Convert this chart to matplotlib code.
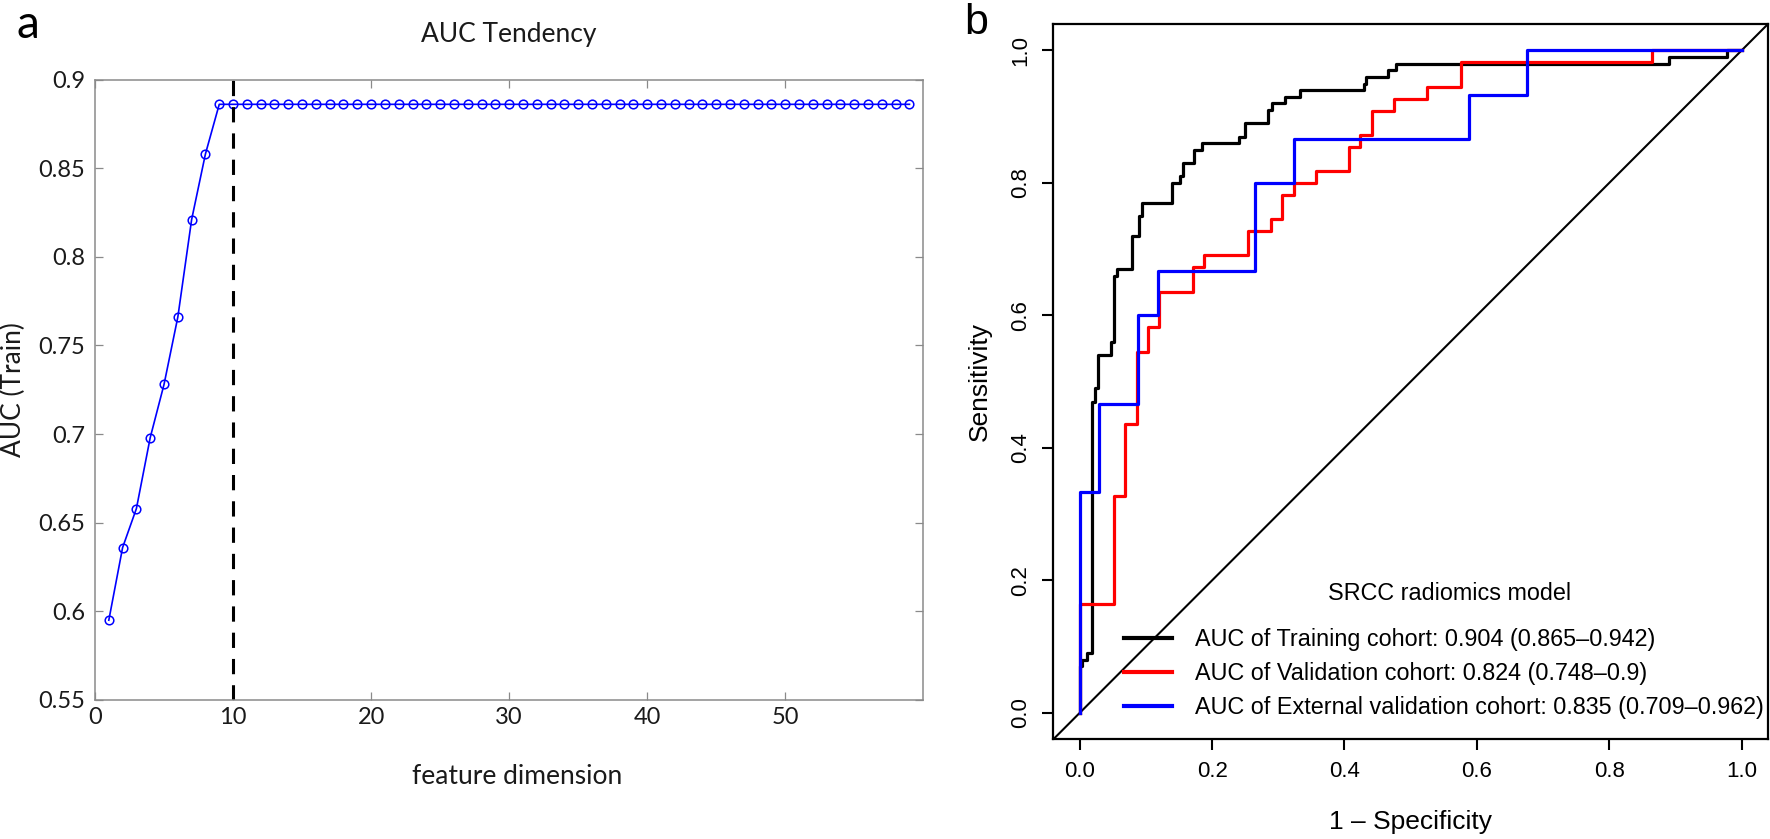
import matplotlib.pyplot as plt

# ---- panel a: AUC tendency ----
feat_dim = list(range(1, 60))
auc_train = [
    0.595, 0.636, 0.658, 0.698, 0.728, 0.766, 0.821, 0.858, 0.886, 0.886,
    0.886, 0.886, 0.886, 0.886, 0.886, 0.886, 0.886, 0.886, 0.886, 0.886,
    0.886, 0.886, 0.886, 0.886, 0.886, 0.886, 0.886, 0.886, 0.886, 0.886,
    0.886, 0.886, 0.886, 0.886, 0.886, 0.886, 0.886, 0.886, 0.886, 0.886,
    0.886, 0.886, 0.886, 0.886, 0.886, 0.886, 0.886, 0.886, 0.886, 0.886,
    0.886, 0.886, 0.886, 0.886, 0.886, 0.886, 0.886, 0.886, 0.886,
]
best_dim = 10
a_xticks = [0, 10, 20, 30, 40, 50]
a_yticks = [0.55, 0.6, 0.65, 0.7, 0.75, 0.8, 0.85, 0.9]
a_yticklabels = ['0.55', '0.6', '0.65', '0.7', '0.75', '0.8', '0.85', '0.9']

# ---- panel b: ROC curves (corner points, 1 - specificity / sensitivity) ----
train_fpr = [0, 0, 0.004, 0.011, 0.019, 0.023, 0.028, 0.047, 0.051, 0.057,
             0.079, 0.090, 0.094, 0.139, 0.151, 0.156, 0.173, 0.184, 0.240,
             0.250, 0.285, 0.290, 0.310, 0.333, 0.429, 0.433, 0.466, 0.478,
             0.890, 0.978, 1.0]
train_tpr = [0, 0.07, 0.08, 0.09, 0.47, 0.49, 0.54, 0.56, 0.66, 0.67,
             0.72, 0.75, 0.77, 0.80, 0.81, 0.83, 0.85, 0.86, 0.87,
             0.89, 0.91, 0.92, 0.93, 0.94, 0.95, 0.96, 0.97, 0.98,
             0.99, 1.0, 1.0]
valid_fpr = [0, 0, 0.051, 0.068, 0.086, 0.103, 0.120, 0.171, 0.187, 0.254,
             0.289, 0.306, 0.323, 0.357, 0.407, 0.424, 0.441, 0.475, 0.525,
             0.576, 0.865, 1.0]
valid_tpr = [0, 0.164, 0.327, 0.436, 0.545, 0.582, 0.636, 0.673, 0.691, 0.727,
             0.745, 0.782, 0.800, 0.818, 0.855, 0.873, 0.909, 0.927, 0.945,
             0.982, 1.0, 1.0]
ext_fpr = [0, 0, 0.029, 0.088, 0.118, 0.265, 0.324, 0.588, 0.676, 1.0]
ext_tpr = [0, 0.333, 0.467, 0.600, 0.667, 0.800, 0.867, 0.933, 1.0, 1.0]

legend_title = 'SRCC radiomics model'
roc_labels = [
    'AUC of Training cohort: 0.904 (0.865\u20130.942)',
    'AUC of Validation cohort: 0.824 (0.748\u20130.9)',
    'AUC of External validation cohort: 0.835 (0.709\u20130.962)',
]
roc_colors = ['black', 'red', 'blue']
b_ticks = [0.0, 0.2, 0.4, 0.6, 0.8, 1.0]

W, H = 1770, 839
fig = plt.figure(figsize=(W / 100, H / 100), dpi=100)

# 左图 (Matlab 风格)
matlab_font = ['Lato', 'DejaVu Sans']
txt_col = '#1a1a1a'
ax1 = fig.add_axes([95 / W, (H - 700) / H, (923.3 - 95) / W, (700 - 79.5) / H])
ax1.plot(feat_dim, auc_train, '-o', color='blue', lw=1.2, markersize=6.2,
         markerfacecolor='none', markeredgewidth=1.1)
ax1.axvline(best_dim, color='black', lw=2.2, ls=(0, (5, 3.6)))
ax1.set_xlim(0, 60)
ax1.set_ylim(0.55, 0.9)
ax1.set_xticks(a_xticks)
ax1.set_yticks(a_yticks)
ax1.set_yticklabels(a_yticklabels)
for sp in ax1.spines.values():
    sp.set_color('#8a8a8a')
    sp.set_linewidth(1.1)
ax1.tick_params(direction='in', length=6, width=0.9, color='#8a8a8a',
                top=True, right=True, labelsize=17, labelcolor=txt_col)
ax1.tick_params(axis='y', pad=7)
ax1.tick_params(axis='x', pad=5)
for lab in ax1.get_xticklabels() + ax1.get_yticklabels():
    lab.set_family(matlab_font)
ax1.set_title('AUC Tendency', fontsize=19, family=matlab_font, y=1.059,
              va='center', color=txt_col)
ax1.set_xlabel('feature dimension', fontsize=19, family=matlab_font, color=txt_col)
ax1.xaxis.set_label_coords(0.51, -0.124)
ax1.xaxis.label.set_va('center')
ax1.set_ylabel('AUC (Train)', fontsize=19, family=matlab_font, color=txt_col)
ax1.yaxis.set_label_coords(-0.099, 0.5)
ax1.yaxis.label.set_va('center')

# 右图 (R pROC 风格)
r_font = ['Liberation Sans', 'DejaVu Sans']
ax2 = fig.add_axes([1053.3 / W, (H - 739.3) / H, (1768 - 1053.3) / W, (739.3 - 24) / H])
ax2.axline((0, 0), (1, 1), color='black', lw=1.5, zorder=1)
for fpr, tpr, col, lab in zip([train_fpr, valid_fpr, ext_fpr],
                              [train_tpr, valid_tpr, ext_tpr],
                              roc_colors, roc_labels):
    ax2.plot(fpr, tpr, drawstyle='steps-post', color=col, lw=2.3, label=lab, zorder=2)
ax2.set_xlim(-0.04, 1.04)
ax2.set_ylim(-0.04, 1.04)
ax2.set_xticks(b_ticks)
ax2.set_yticks(b_ticks)
ax2.set_xticklabels([f'{t:.1f}' for t in b_ticks])
ax2.set_yticklabels([f'{t:.1f}' for t in b_ticks])
for sp in ax2.spines.values():
    sp.set_linewidth(1.6)
ax2.tick_params(direction='out', length=8, width=1.5, labelsize=16)
ax2.tick_params(axis='x', pad=7.5)
ax2.tick_params(axis='y', pad=8, labelrotation=90)
for lab in ax2.get_yticklabels():
    lab.set_va('center')
for lab in ax2.get_xticklabels() + ax2.get_yticklabels():
    lab.set_family(r_font)
ax2.set_xlabel('1 \u2013 Specificity', fontsize=19, family=r_font)
ax2.xaxis.set_label_coords(0.5, -0.1152)
ax2.xaxis.label.set_va('center')
ax2.set_ylabel('Sensitivity', fontsize=19, family=r_font)
ax2.yaxis.set_label_coords(-0.1026, 0.5)
ax2.yaxis.label.set_va('center')

leg = ax2.legend(loc='lower left', bbox_to_anchor=((1124 - 1053.3) / 714.7, 0.0278),
                 frameon=False, handlelength=2.05, handletextpad=0.98,
                 labelspacing=0.48, borderpad=0, borderaxespad=0,
                 prop={'family': r_font, 'size': 16.8})
for ln in leg.get_lines():
    ln.set_linewidth(3)
ax2.text(0.555, 0.204, legend_title, transform=ax2.transAxes, fontsize=16.8,
         family=r_font, ha='center', va='center')

# 面板标签
fig.text(28 / W, 1 - 25 / H, 'a', fontsize=33, family=matlab_font, ha='center', va='center')
fig.text(976 / W, 1 - 23 / H, 'b', fontsize=31, family=r_font, ha='center', va='center')

fig.savefig('out.png', dpi=100)
